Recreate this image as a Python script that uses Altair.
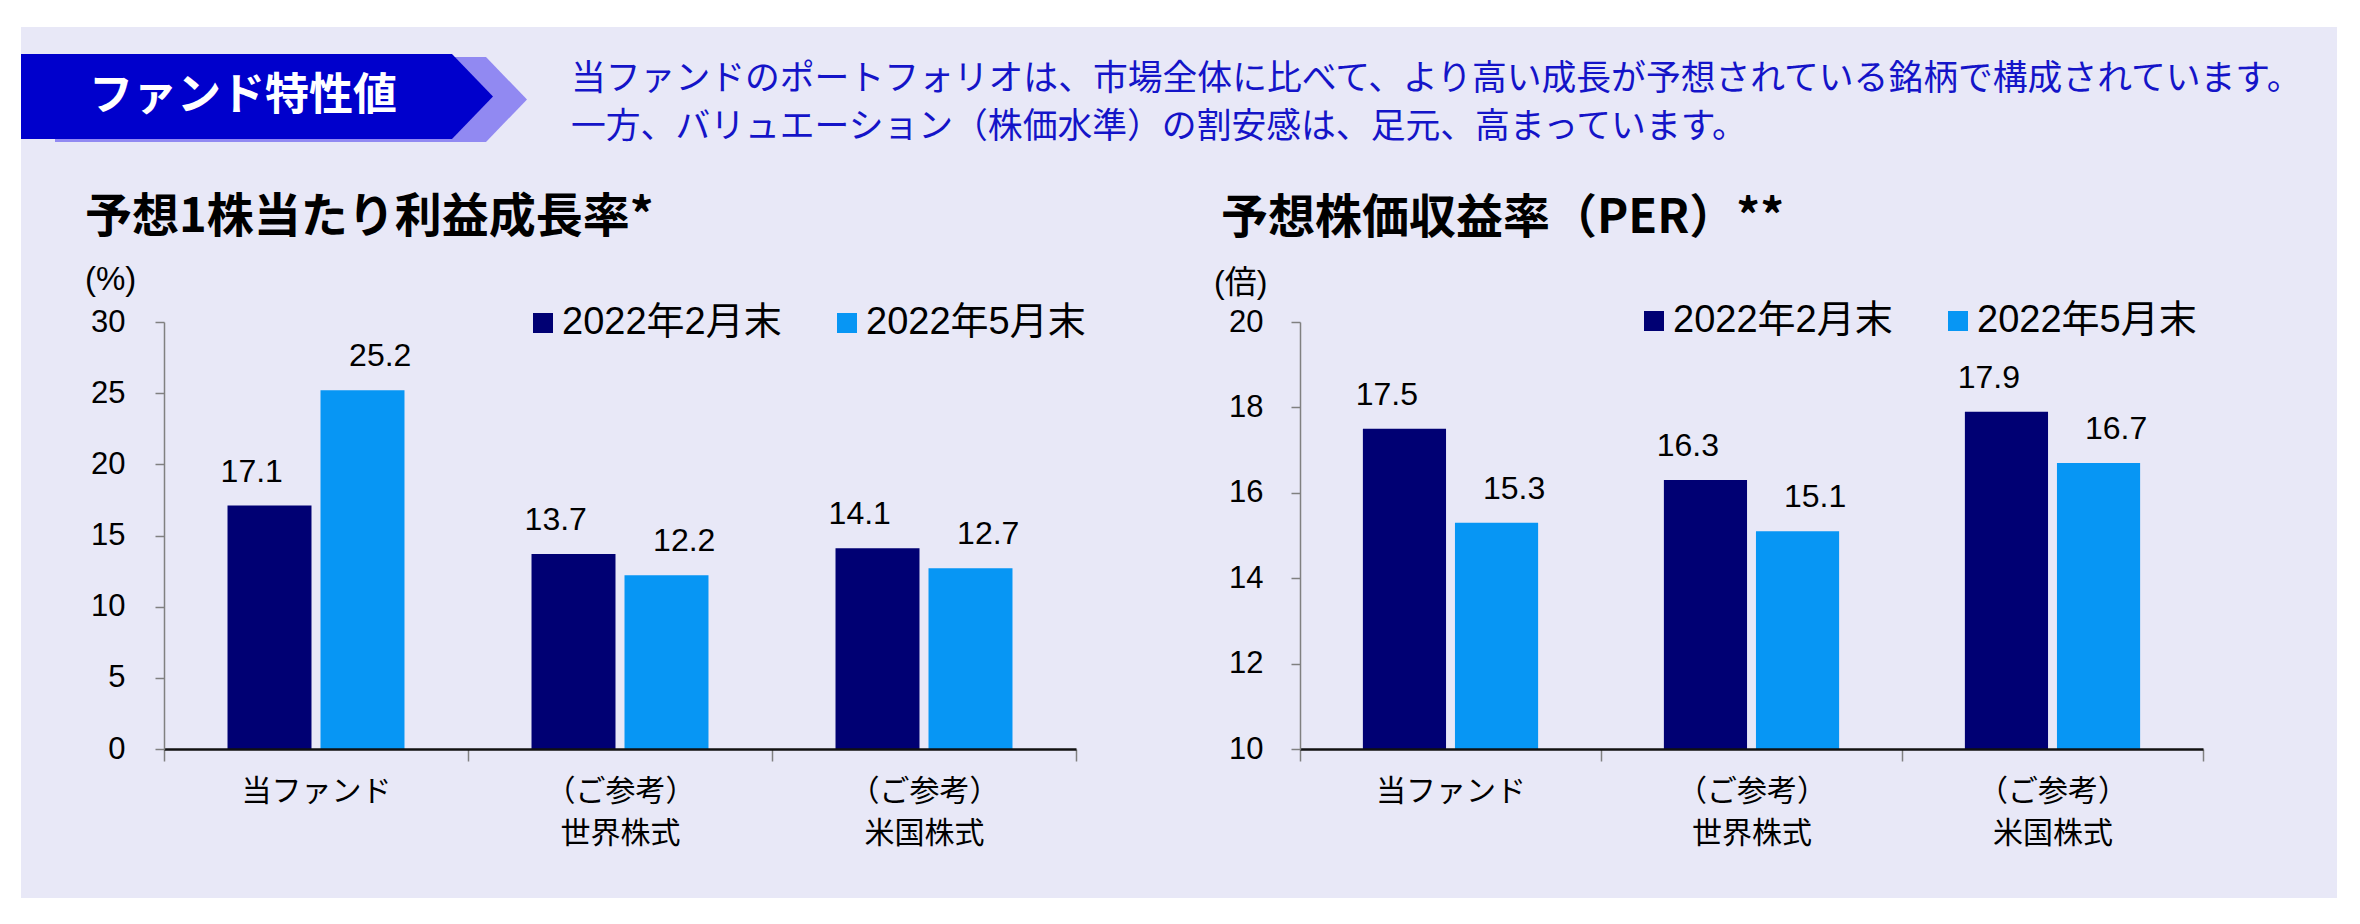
import altair as alt
import pandas as pd

# ---- data ----
categories = ["当ファンド", "（ご参考）\n世界株式", "（ご参考）\n米国株式"]
periods = ["2022年2月末", "2022年5月末"]
eps_feb = [17.1, 13.7, 14.1]
eps_may = [25.2, 12.2, 12.7]
per_feb = [17.5, 16.3, 17.9]
per_may = [15.3, 15.1, 16.7]
eps_ticks = [0, 5, 10, 15, 20, 25, 30]
per_ticks = [10, 12, 14, 16, 18, 20]

banner_text = "ファンド特性値"
desc_line1 = "当ファンドのポートフォリオは、市場全体に比べて、より高い成長が予想されている銘柄で構成されています。"
desc_line2 = "一方、バリュエーション（株価水準）の割安感は、足元、高まっています。"
title_eps = "予想1株当たり利益成長率*"
title_per = "予想株価収益率（PER）**"
unit_eps = "(%)"
unit_per = "(倍)"

# ---- styling ----
W, H = 2340, 900
NAVY = "#000073"
SKY = "#0796F4"
PANEL = "#E8E8F7"
BANNER = "#0000CC"
BANNER_LIGHT = "#9189F2"
DESC = "#1414C8"
JP = "'Noto Sans CJK JP'"
LAT = "'Liberation Sans', 'Noto Sans CJK JP'"


def make_df(a, b):
    rows = []
    for c, v1, v2 in zip(categories, a, b):
        rows.append({"cat": c, "period": periods[0], "value": v1})
        rows.append({"cat": c, "period": periods[1], "value": v2})
    return pd.DataFrame(rows)


def bar_layers(df, domain, ticks, xr, yr, legend_x, legend_y, label_pad):
    xscale = alt.Scale(range=xr, paddingInner=0, paddingOuter=0)
    oscale = alt.Scale(paddingInner=0.097, paddingOuter=0.683)
    yscale = alt.Scale(domain=domain, range=yr, zero=False, nice=False)
    xaxis = alt.Axis(
        orient="bottom", offset=yr[0] - H, title=None, zindex=1,
        labelExpr="split(datum.label, '\\n')", labelAngle=0,
        tickBand="extent", tickSize=12, tickColor="#808080", tickWidth=1.5,
        domainColor="#111111", domainWidth=2.5,
        labelFont=JP, labelFontSize=30, labelColor="black",
        labelLineHeight=42, labelPadding=15, labelBaseline="top",
        labelLimit=0,
    )
    yaxis = alt.Axis(
        orient="left", offset=-xr[0], title=None, values=ticks, grid=False,
        zindex=1, tickSize=9, tickColor="#808080", tickWidth=1.5,
        domainColor="#808080", domainWidth=1.5,
        labelFont=LAT, labelFontSize=31, labelColor="black",
        labelPadding=label_pad,
    )
    bars = alt.Chart(df).mark_bar().encode(
        x=alt.X("cat:N", sort=categories, scale=xscale, axis=xaxis),
        xOffset=alt.XOffset("period:N", sort=periods, scale=oscale),
        y=alt.Y("value:Q", scale=yscale, axis=yaxis),
        y2=alt.datum(domain[0]),
        color=alt.Color(
            "period:N", sort=periods,
            scale=alt.Scale(domain=periods, range=[NAVY, SKY]),
            legend=alt.Legend(
                orient="none", legendX=legend_x, legendY=legend_y,
                direction="horizontal", title=None, symbolType="square",
                symbolSize=400, symbolStrokeWidth=0, labelFont=LAT,
                labelFontSize=38, labelColor="black", labelOffset=0,
                columnPadding=46, padding=0, labelLimit=0,
            ),
        ),
    )
    labels = alt.Chart(df).mark_text(
        font=LAT, fontSize=32, color="black", baseline="alphabetic", dy=-24
    ).encode(
        x=alt.X("cat:N", sort=categories, scale=xscale, axis=None),
        xOffset=alt.XOffset("period:N", sort=periods, scale=oscale),
        y=alt.Y("value:Q", scale=yscale, axis=None),
        text=alt.Text("value:Q", format=".1f"),
    )
    return [bars, labels]


one = alt.Data(values=[{"k": 1}])

panel = alt.Chart(one).mark_rect(color=PANEL).encode(
    x=alt.value(13), x2=alt.value(2329), y=alt.value(19), y2=alt.value(890)
)

chevron = "M-2.36,-0.425L1.95,-0.425L2.36,0L1.95,0.425L-2.36,0.425Z"
banner_light = alt.Chart(one).mark_point(
    shape=chevron, size=40000, filled=True, fill=BANNER_LIGHT, opacity=1, strokeWidth=0
).encode(x=alt.value(283), y=alt.value(91.5))
banner_dark = alt.Chart(one).mark_point(
    shape=chevron, size=40000, filled=True, fill=BANNER, opacity=1, strokeWidth=0
).encode(x=alt.value(249), y=alt.value(88.5))


def label(txt, x, y, size, color="black", weight="normal", font=JP):
    return alt.Chart(one).mark_text(
        text=txt, font=font, fontSize=size, color=color, fontWeight=weight,
        align="left", baseline="middle",
    ).encode(x=alt.value(x), y=alt.value(y))


texts = [
    label(banner_text, 81, 89, 44, "white", "bold"),
    label(desc_line1, 563, 72, 34.8, DESC),
    label(desc_line2, 563, 120, 34.8, DESC),
    label(title_eps, 77, 210, 47, "black", "bold"),
    label(title_per, 1213, 211, 47, "black", "bold"),
    label(unit_eps, 77, 272, 33, font=LAT),
    label(unit_per, 1206, 275, 32, font=LAT),
]

left = bar_layers(make_df(eps_feb, eps_may), [0, 30], eps_ticks,
                  [156, 1068], [741, 314], 516, 296, 30)
right = bar_layers(make_df(per_feb, per_may), [10, 20], per_ticks,
                   [1292, 2195], [741, 314], 1627, 294, 28)

chart = alt.layer(
    panel, banner_light, banner_dark, *texts, *left, *right
).resolve_scale(
    x="independent", y="independent", xOffset="independent", color="independent"
).resolve_axis(
    x="independent", y="independent"
).resolve_legend(
    color="independent"
).properties(
    width=W, height=H, autosize=alt.AutoSizeParams(type="none"), padding=0,
    background="white"
).configure_view(
    stroke="transparent", strokeWidth=0
)

chart.save("out.html", embed_options={"renderer": "svg", "actions": False})
